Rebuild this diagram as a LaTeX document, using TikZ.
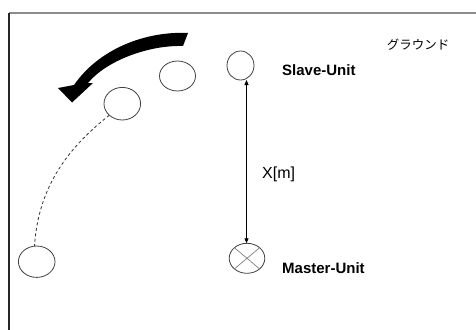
\documentclass[tikz,border=0pt]{standalone}
\usepackage{fontspec}
\setmainfont{Liberation Sans}
\newfontfamily\jpfont{Noto Sans CJK JP}
\usetikzlibrary{arrows.meta,calc}
\begin{document}
\begin{tikzpicture}[x=1pt,y=-1pt,
  unitline/.style={draw=black!75,line width=0.8pt},
  lbl/.style={font=\fontsize{15}{15}\selectfont\bfseries,anchor=base west,inner sep=0pt},
  track/.style={draw=black!80,line width=0.8pt,dash pattern=on 3pt off 2.5pt}]
\useasboundingbox (0,0) rectangle (476,329);
\fill[white] (0,0) rectangle (476,329);
% frame of the field
\draw[black!45,line width=1.2pt] (9,13) -- (477,13);
\draw[black!85,line width=1.2pt] (9,13) -- (9,330);

% units (ellipses drawn with explicit radii)
\coordinate (slave) at (240.5,65.5);
\draw[unitline] (slave) ellipse [x radius=13.5,y radius=14.5];
\draw[unitline] (177.5,76) ellipse [x radius=18,y radius=15];
\draw[unitline] (122.3,103.7) ellipse [x radius=18.3,y radius=16.3];
\draw[unitline] (36.7,261.7) ellipse [x radius=18.3,y radius=15.7];
\coordinate (master) at (247,258.3);
\draw[unitline] (master) ellipse [x radius=17.8,y radius=15];
% cross inside master unit
\draw[black!50,line width=0.7pt] ($(master)+(-12.6,-10.6)$) -- ($(master)+(12.6,10.6)$);
\draw[black!50,line width=0.7pt] ($(master)+(-12.6,10.6)$) -- ($(master)+(12.6,-10.6)$);

% distance between the units
\coordinate (dtop) at (246.5,80);
\coordinate (dbot) at (246.5,243.3);
\draw[line width=0.8pt,{Triangle[length=5pt,width=4pt]}-{Triangle[length=5pt,width=4pt]}] (dtop) -- (dbot);

% dashed track of the moving unit
\coordinate (t0) at (109.4,115.2);
\coordinate (t1) at (34.5,246.2);
\draw[track] (t0) .. controls (65,150) and (38,190) .. (t1);

% thick curved arrow showing the turning direction
\fill[black] (188,33) .. controls (145,31) and (99,49) .. (74,85)
  -- (58,88) -- (72,102.5) -- (93,83) -- (88,83)
  .. controls (106,61) and (148,45) .. (183,46) -- cycle;

% labels
\node[lbl] (slavetxt) at (282,75.5) {Slave-Unit};
\node[lbl] (mastertxt) at (282,273.5) {Master-Unit};
\node[font=\fontsize{16}{16}\selectfont,anchor=base west,inner sep=0pt] (dist) at (262,178) {X[m]};
\node[font=\jpfont\fontsize{12.5}{12.5}\selectfont,inner sep=0pt] (ground) at (418,45) {グラウンド};
\end{tikzpicture}
\end{document}
